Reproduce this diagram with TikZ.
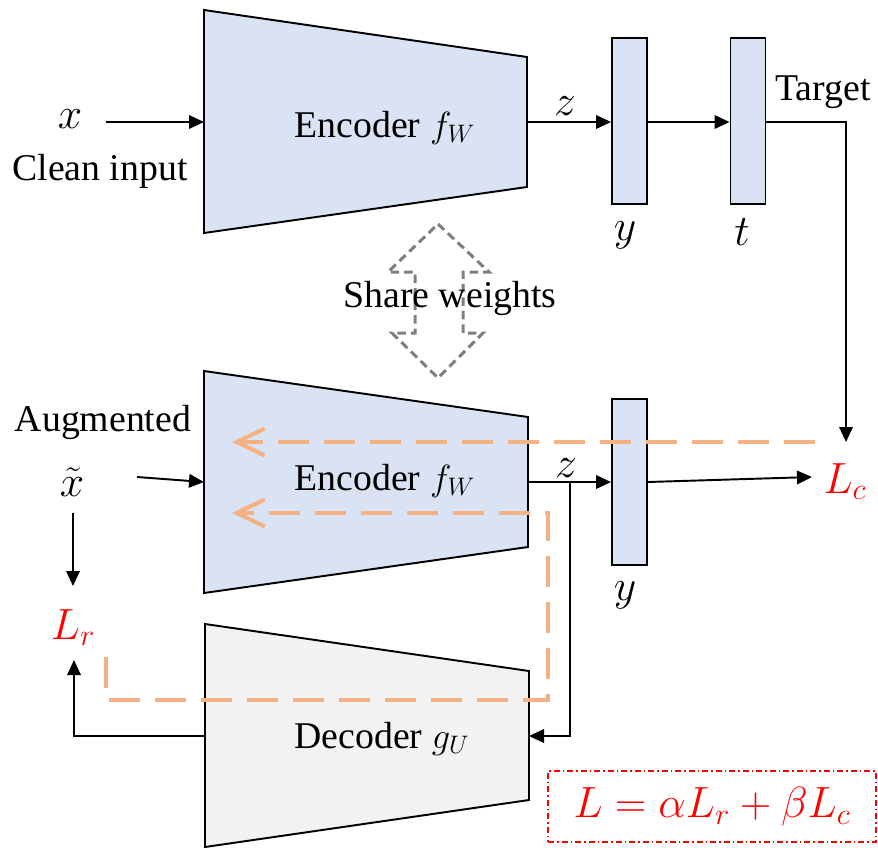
\documentclass[tikz,border=0pt]{standalone}
\usepackage{fontspec}
\setmainfont{Liberation Serif}
\usetikzlibrary{arrows.meta}
\definecolor{encblue}{RGB}{218,227,243}
\definecolor{decgray}{RGB}{242,242,242}
\definecolor{orangeline}{RGB}{244,177,131}
\definecolor{lossred}{RGB}{255,0,0}
\definecolor{sharegray}{RGB}{127,127,127}
\begin{document}
\begin{tikzpicture}[x=0.02cm,y=-0.02cm,
  lbl/.style={inner sep=0pt, anchor=base, font=\fontsize{21.5}{26}\selectfont},
  mlbl/.style={inner sep=0pt, anchor=base, font=\fontsize{24.5}{29}\selectfont},
  loss/.style={mlbl, text=lossred},
  block/.style={draw=black, line width=1.1pt, fill=encblue, line join=miter},
  decblock/.style={block, fill=decgray},
  vec/.style={draw=black, line width=1.1pt, fill=encblue, minimum width=0.7cm, minimum height=3.32cm, inner sep=0pt},
  conn/.style={line width=1.1pt, -{Triangle[length=0.3cm,width=0.27cm]}},
  back/.style={draw=orangeline, line width=2.3pt, dash pattern=on 0.62cm off 0.3cm},
  backarrow/.style={back, -{Straight Barb[length=0.56cm,width=0.54cm,line width=2.3pt]}},
  share/.style={draw=sharegray, line width=1.7pt, dash pattern=on 0.17cm off 0.1cm, line join=miter},
  total/.style={draw=lossred, line width=0.9pt, dash pattern=on 0.12cm off 0.06cm on 0.03cm off 0.06cm, inner sep=0pt, minimum width=6.56cm, minimum height=1.42cm, text=lossred, font=\fontsize{24}{28}\selectfont}
]
\useasboundingbox (0,0) rectangle (878,849);

% ---- top branch ----
\path[block] (204,10) -- (527,57) -- (527,187) -- (204,233) -- cycle;
\coordinate (e1in) at (204,122);
\coordinate (e1out) at (527,122);
\node[lbl] (enc1) at (385,137) {Encoder $f_W$};
\node[mlbl] (xin) at (70,128) {$x$};
\node[lbl] (clean) at (100,180) {Clean input};
\coordinate (xs) at (106,122);
\node[vec] (y1) at (629.5,121) {};
\node[vec] (t1) at (748,121) {};
\node[mlbl] (z1) at (565,115) {$z$};
\node[mlbl] (ylab1) at (625,240) {$y$};
\node[mlbl] (tlab) at (742,245) {$t$};
\node[lbl] (target) at (823,100) {Target};
\coordinate (tc) at (846,122);
\coordinate (lcin) at (846,442);

\draw[conn] (xs) -- (e1in);
\draw[conn] (e1out) -- (y1.west |- e1out);
\draw[conn] (y1.east |- e1out) -- (t1.west |- e1out);
\draw[conn] (t1.east |- e1out) -- (tc) -- (lcin);

% ---- share weights ----
\draw[share] (438,224) -- (489,272) -- (463,272) -- (463,333) -- (483,333) -- (438,378)
  -- (392,333) -- (415,333) -- (415,272) -- (388,272) -- cycle;
\node[lbl] (share) at (450,307) {Share weights};

% ---- bottom branch ----
\path[block] (204,371) -- (528,417) -- (528,547) -- (204,593) -- cycle;
\coordinate (e2in) at (204,482);
\coordinate (e2out) at (528,482);
\node[lbl] (enc2) at (385,490) {Encoder $f_W$};
\node[lbl] (aug) at (103,431) {Augmented};
\node[mlbl] (xt) at (72,496) {$\tilde{x}$};
\coordinate (xts) at (137,477);
\coordinate (xtd) at (73,513);
\coordinate (lrin) at (73,586);
\node[vec] (y2) at (629.5,482) {};
\node[mlbl] (z2) at (566,477) {$z$};
\node[mlbl] (ylab2) at (625,600) {$y$};
\node[loss] (lc) at (845,493) {$L_c$};
\coordinate (lcend) at (812,477);
\node[loss] (lr) at (73,639) {$L_r$};

\path[decblock] (205,624) -- (529,671) -- (529,800) -- (205,847) -- cycle;
\coordinate (din) at (529,736);
\coordinate (dout) at (205,736);
\node[lbl] (dec) at (382,748) {Decoder $g_U$};
\coordinate (zb) at (570,482);
\coordinate (zc) at (570,736);
\coordinate (lc1) at (74,736);
\coordinate (lrout) at (74,660);

\draw[conn] (xts) -- (e2in);
\draw[conn] (e2out) -- (y2.west |- e2out);
\draw[conn] (y2.east |- e2out) -- (lcend);
\draw[conn] (xtd) -- (lrin);
\draw[conn] (zb) -- (zc) -- (din);
\draw[conn] (dout) -- (lc1) -- (lrout);

% ---- gradient (orange) paths ----
\coordinate (g1s) at (815,442);
\coordinate (g1e) at (232,442);
\coordinate (g2s) at (106,657);
\coordinate (g2a) at (106,700);
\coordinate (g2b) at (548,700);
\coordinate (g2c) at (548,513);
\coordinate (g2e) at (232,513);
\draw[backarrow] (g1s) -- (g1e);
\draw[backarrow] (g2s) -- (g2a) -- (g2b) -- (g2c) -- (g2e);

% ---- total loss ----
\node[total] (ltot) at (712,806.5) {$L=\alpha L_r+\beta L_c$};
\end{tikzpicture}
\end{document}
